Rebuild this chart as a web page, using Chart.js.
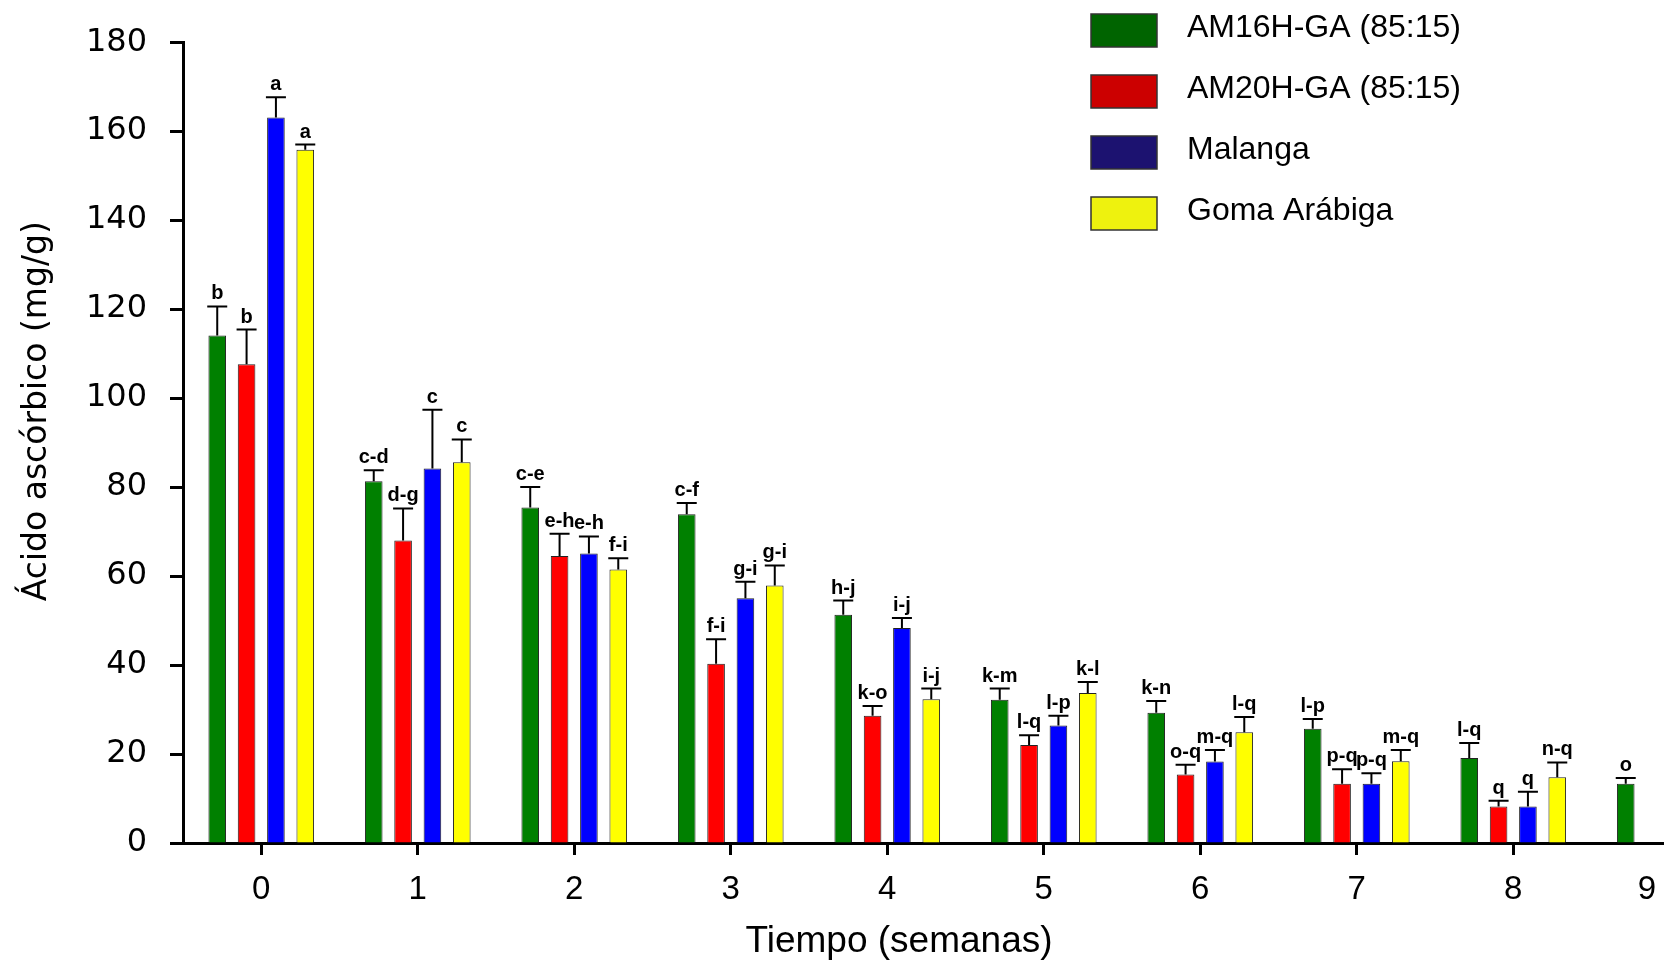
<!DOCTYPE html>
<html>
<head>
<meta charset="utf-8">
<title>Ácido ascórbico</title>
<script src="https://cdn.jsdelivr.net/npm/chart.js@4/dist/chart.umd.min.js"></script>
<style>
html, body { margin: 0; padding: 0; overflow: hidden; background: #fff; }
canvas { display: block; }
</style>
</head>
<body>
<canvas id="grafico" width="1760" height="963"></canvas>
<script>
const semanas = ['0', '1', '2', '3', '4', '5', '6', '7', '8', '9'];
const nomes = ['AM16H-GA (85:15)', 'AM20H-GA (85:15)', 'Malanga', 'Goma Arábiga'];

const am16 = [114.1, 81.3, 75.4, 73.9, 51.3, 32.2, 29.3, 25.7, 19.1, 13.3];
const am16Err = [6.5, 2.5, 4.6, 2.5, 3.2, 2.5, 2.6, 2.2, 3.4, 1.3];
const am16Letras = ['b', 'c-d', 'c-e', 'c-f', 'h-j', 'k-m', 'k-n', 'l-p', 'l-q', 'o'];

const am20 = [107.6, 68.0, 64.5, 40.3, 28.6, 22.0, 15.4, 13.3, 8.2, null];
const am20Err = [7.8, 7.2, 5.0, 5.5, 2.2, 2.2, 2.2, 3.3, 1.3, null];
const am20Letras = ['b', 'd-g', 'e-h', 'f-i', 'k-o', 'l-q', 'o-q', 'p-q', 'q', ''];

const malanga = [163.1, 84.2, 65.1, 55.0, 48.3, 26.4, 18.3, 13.3, 8.2, null];
const malangaErr = [4.5, 13.2, 3.8, 3.7, 2.3, 2.2, 2.6, 2.4, 3.3, null];
const malangaLetras = ['a', 'c', 'e-h', 'g-i', 'i-j', 'l-p', 'm-q', 'p-q', 'q', ''];

const goma = [155.8, 85.6, 61.5, 57.9, 32.3, 33.7, 24.9, 18.4, 14.8, null];
const gomaErr = [1.2, 5.1, 2.5, 4.5, 2.4, 2.5, 3.4, 2.5, 3.3, null];
const gomaLetras = ['a', 'c', 'f-i', 'g-i', 'i-j', 'k-l', 'l-q', 'm-q', 'n-q', ''];

const coresBarra = ['#008000', '#ff0000', '#0000ff', '#ffff00'];
const coresLegenda = ['#006400', '#cc0000', '#1c1270', '#eef20e'];

const medias = [am16, am20, malanga, goma];
const erros = [am16Err, am20Err, malangaErr, gomaErr];
const letras = [am16Letras, am20Letras, malangaLetras, gomaLetras];

// barras de erro (so para cima) e letras de significancia
const errosPlugin = {
  id: 'erros',
  afterDatasetsDraw(chart) {
    const c = chart.ctx;
    const y = chart.scales.y;
    c.save();
    c.strokeStyle = '#000';
    c.lineWidth = 2;
    c.fillStyle = '#000';
    c.font = 'bold 20px "Liberation Sans", Arial, sans-serif';
    c.textAlign = 'center';
    c.textBaseline = 'alphabetic';
    chart.data.datasets.forEach((ds, i) => {
      chart.getDatasetMeta(i).data.forEach((bar, j) => {
        const v = medias[i][j];
        if (v == null) return;
        const topo = y.getPixelForValue(v + erros[i][j]);
        c.beginPath();
        c.moveTo(bar.x, bar.y);
        c.lineTo(bar.x, topo);
        c.moveTo(bar.x - 10, topo);
        c.lineTo(bar.x + 10, topo);
        c.stroke();
        c.fillText(letras[i][j], bar.x, topo - 7);
      });
    });
    c.restore();
  }
};

// legenda e titulos dos eixos
const extrasPlugin = {
  id: 'extras',
  afterDraw(chart) {
    const c = chart.ctx;
    const area = chart.chartArea;
    c.save();
    chart.data.datasets.forEach((ds, i) => {
      c.fillStyle = coresLegenda[i];
      c.fillRect(1091, 14 + i * 61, 66, 33);
      c.strokeStyle = '#333';
      c.lineWidth = 1.5;
      c.strokeRect(1091, 14 + i * 61, 66, 33);
      c.fillStyle = '#000';
      c.font = '32px "Liberation Sans", Arial, sans-serif';
      c.textAlign = 'left';
      c.textBaseline = 'alphabetic';
      c.fillText(ds.label, 1187, 37 + i * 61);
    });

    c.fillStyle = '#000';
    c.font = '37px "Liberation Sans", Arial, sans-serif';
    c.textAlign = 'center';
    c.textBaseline = 'alphabetic';
    c.fillText('Tiempo (semanas)', area.left + 716, 952);

    c.translate(37, area.top + 369);
    c.rotate(-Math.PI / 2);
    c.font = '33px "DejaVu Sans", sans-serif';
    c.textBaseline = 'middle';
    c.fillText('Ácido ascórbico (mg/g)', 0, 0);
    c.restore();
  }
};

const ctx = document.getElementById('grafico');

new Chart(ctx, {
  type: 'bar',
  data: {
    labels: semanas,
    datasets: medias.map((m, i) => ({
      label: nomes[i],
      data: m,
      backgroundColor: coresBarra[i],
      borderColor: '#222',
      borderWidth: 1,
      categoryPercentage: 0.75,
      barPercentage: 0.6
    }))
  },
  options: {
    responsive: false,
    animation: false,
    layout: { padding: { left: 0, top: 36, right: 12, bottom: 0 } },
    plugins: {
      legend: { display: false },
      tooltip: { enabled: false }
    },
    scales: {
      x: {
        afterFit: (s) => { s.height = 120; },
        grid: { display: true, drawOnChartArea: false, offset: false, tickLength: 12, tickWidth: 3, tickColor: '#000' },
        border: { display: true, color: '#000', width: 3 },
        ticks: {
          color: '#000',
          padding: 15,
          font: { family: '"Liberation Sans", Arial, sans-serif', size: 33 },
          // o ultimo rotulo fica na borda recortada: espacos a direita o puxam para dentro
          callback: (v, i) => i === semanas.length - 1 ? semanas[i] + '     ' : semanas[i]
        }
      },
      y: {
        min: 0,
        max: 180,
        afterFit: (s) => { s.width = 183; },
        grid: { display: true, drawOnChartArea: false, tickLength: 13, tickWidth: 3, tickColor: '#000' },
        border: { display: true, color: '#000', width: 3 },
        ticks: { stepSize: 20, color: '#000', padding: 23, font: { family: '"DejaVu Sans", sans-serif', size: 32 } }
      }
    }
  },
  plugins: [errosPlugin, extrasPlugin]
});
</script>
</body>
</html>
